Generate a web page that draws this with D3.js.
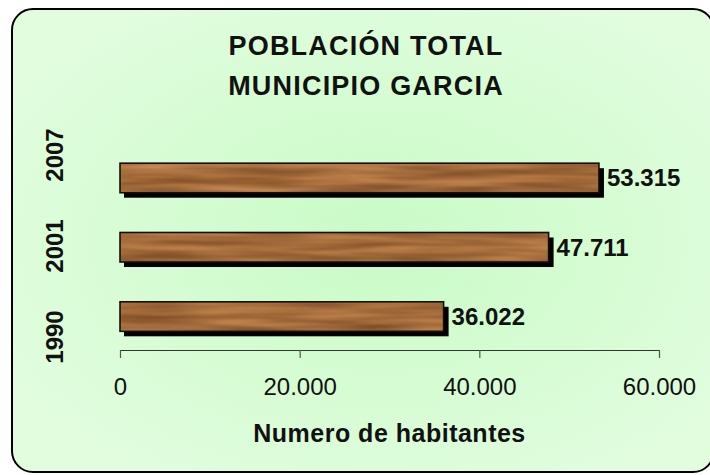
<!DOCTYPE html>
<html>
<head>
<meta charset="utf-8">
<script src="https://cdn.jsdelivr.net/npm/d3@7"></script>
<style>
  html, body { margin: 0; padding: 0; background: #ffffff; }
  svg { display: block; }
  text { font-family: "Liberation Sans", Arial, Helvetica, sans-serif; fill: #111; }
</style>
</head>
<body>
<svg id="chart" width="710" height="475"></svg>
<script>
const categories = ["2007", "2001", "1990"];
const values = [53315, 47711, 36022];
const valueLabels = ["53.315", "47.711", "36.022"];
const tickValues = [0, 20000, 40000, 60000];
const tickLabels = ["0", "20.000", "40.000", "60.000"];
const titleLines = ["POBLACIÓN TOTAL", "MUNICIPIO GARCIA"];
const axisTitle = "Numero de habitantes";

const svg = d3.select("#chart");
const defs = svg.append("defs");

// background gradient
const rg = defs.append("radialGradient").attr("id", "bg")
  .attr("cx", "0.52").attr("cy", "0.5").attr("r", "0.6");
rg.append("stop").attr("offset", "0").attr("stop-color", "#c9fbc6");
rg.append("stop").attr("offset", "1").attr("stop-color", "#e1fdde");

// wood texture filter
const f = defs.append("filter").attr("id", "wood")
  .attr("x", 0).attr("y", 0).attr("width", 1).attr("height", 1)
  .attr("color-interpolation-filters", "sRGB");
f.append("feTurbulence").attr("type", "fractalNoise")
  .attr("baseFrequency", "0.01 0.13").attr("numOctaves", 2).attr("seed", 7).attr("result", "n");
f.append("feColorMatrix").attr("in", "n").attr("type", "matrix")
  .attr("values", "0.38 0 0 0 0.45  0.32 0 0 0 0.26  0.22 0 0 0 0.12  0 0 0 0 1")
  .attr("result", "c");
f.append("feComposite").attr("in", "c").attr("in2", "SourceGraphic").attr("operator", "in");

// frame
svg.append("rect")
  .attr("x", 12).attr("y", 9).attr("width", 702).attr("height", 463)
  .attr("rx", 21).attr("ry", 21)
  .attr("fill", "url(#bg)").attr("stroke", "#000").attr("stroke-width", 2);

// scales
const x = d3.scaleLinear().domain([0, 60000]).range([120, 659]);
const y = d3.scaleBand().domain(categories).range([143.3, 351.2])
  .paddingInner(0.574).paddingOuter(0.287);
const yLab = d3.scalePoint().domain(categories).range([155, 337]);

// title
svg.append("g").selectAll("text").data(titleLines).join("text")
  .attr("x", 366).attr("y", (d, i) => 55 + i * 40)
  .attr("text-anchor", "middle")
  .style("font-size", "27px").style("font-weight", "bold")
  .style("letter-spacing", "1.2px")
  .text(d => d);

const data = categories.map((c, i) => ({ c, v: values[i], l: valueLabels[i] }));

// shadows
svg.append("g").selectAll("rect").data(data).join("rect")
  .attr("x", x(0) + 4).attr("y", d => y(d.c) + 5)
  .attr("width", d => x(d.v) - x(0) + 1).attr("height", y.bandwidth())
  .attr("fill", "#000");

// bars (wood)
svg.append("g").selectAll("rect").data(data).join("rect")
  .attr("x", x(0)).attr("y", d => y(d.c))
  .attr("width", d => x(d.v) - x(0)).attr("height", y.bandwidth())
  .attr("fill", "#a86c38").attr("filter", "url(#wood)");
svg.append("g").selectAll("rect").data(data).join("rect")
  .attr("x", x(0)).attr("y", d => y(d.c))
  .attr("width", d => x(d.v) - x(0)).attr("height", y.bandwidth())
  .attr("fill", "none").attr("stroke", "#111").attr("stroke-width", 1.6);

// value labels
svg.append("g").selectAll("text").data(data).join("text")
  .attr("x", d => x(d.v) + 8).attr("y", d => y(d.c) + y.bandwidth() / 2 + 8.5)
  .style("font-size", "24px").style("font-weight", "bold")
  .text(d => d.l);

// category labels
svg.append("g").selectAll("text").data(categories).join("text")
  .attr("transform", d => `translate(63,${yLab(d)}) rotate(-90)`)
  .attr("text-anchor", "middle")
  .style("font-size", "24px").style("font-weight", "bold")
  .text(d => d);

// x axis
const axis = d3.axisBottom(x).tickValues(tickValues)
  .tickFormat((d, i) => tickLabels[i]).tickSize(8).tickSizeOuter(0).tickPadding(20);
const gx = svg.append("g").attr("transform", "translate(0,350)").call(axis);
gx.select(".domain").attr("stroke", "#333").attr("stroke-width", 1.2);
gx.selectAll(".tick line").attr("stroke", "#555").attr("stroke-width", 1.2);
gx.selectAll(".tick text")
  .style("font-size", "24px").style("font-family", "'Liberation Sans', Arial, sans-serif")
  .attr("fill", "#111");

// axis title
svg.append("text")
  .attr("x", 389.5).attr("y", 442)
  .attr("text-anchor", "middle")
  .style("font-size", "25px").style("font-weight", "bold")
  .style("letter-spacing", "0.5px")
  .text(axisTitle);
</script>
</body>
</html>
